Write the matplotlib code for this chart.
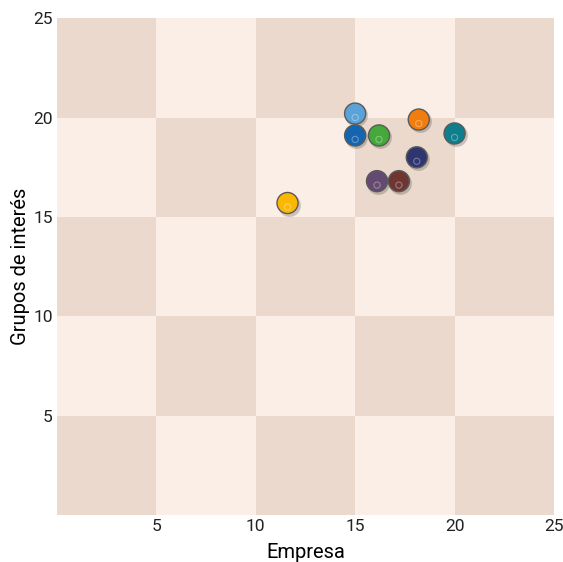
import numpy as np
import matplotlib.pyplot as plt

# puntos (Empresa, Grupos de interés)
empresa = [15.0, 15.0, 16.2, 18.2, 20.0, 18.1, 16.1, 17.2, 11.6]
grupos = [20.2, 19.1, 19.1, 19.9, 19.2, 18.0, 16.8, 16.8, 15.7]
colores = ['#5aa2d8', '#1464b0', '#45a83a', '#f07d0e', '#0f7e8c',
           '#2f356e', '#644a70', '#6f3631', '#fbb702']

x_ticks = [5, 10, 15, 20, 25]
y_ticks = [5, 10, 15, 20, 25]

plt.rcParams['font.family'] = ['Roboto', 'DejaVu Sans']

fig = plt.figure(figsize=(5.63, 5.62), dpi=100)
ax = fig.add_axes([0.101, 0.0836, 0.883, 0.884])

# tablero de fondo
dark = '#ead9cc'
light = '#fbeee6'
for i in range(5):
    for j in range(5):
        c = dark if (i + j) % 2 == 0 else light
        ax.add_patch(plt.Rectangle((i * 5, j * 5), 5, 5, color=c, zorder=0, lw=0))

# sombra, ficha y brillo
ax.scatter(np.array(empresa) + 0.06, np.array(grupos) - 0.08, s=270, color='#00000030', lw=0, zorder=2)
ax.scatter(empresa, grupos, s=230, c=colores, edgecolors='#5a5a5a', linewidths=1.0, zorder=3)
ax.scatter(empresa, np.array(grupos) - 0.2, s=20, facecolors='none', edgecolors='#ffffff55', linewidths=0.8, zorder=4)

ax.set_xlim(0, 25)
ax.set_ylim(0, 25)
ax.set_xticks(x_ticks)
ax.set_yticks(y_ticks)
ax.tick_params(length=0, labelsize=12.5, colors='#222222', pad=3)
for s in ax.spines.values():
    s.set_visible(False)
ax.set_xlabel('Empresa', fontsize=14.5, labelpad=6)
ax.set_ylabel('Grupos de interés', fontsize=14.5, labelpad=2)

fig.savefig('out.png', dpi=100)
